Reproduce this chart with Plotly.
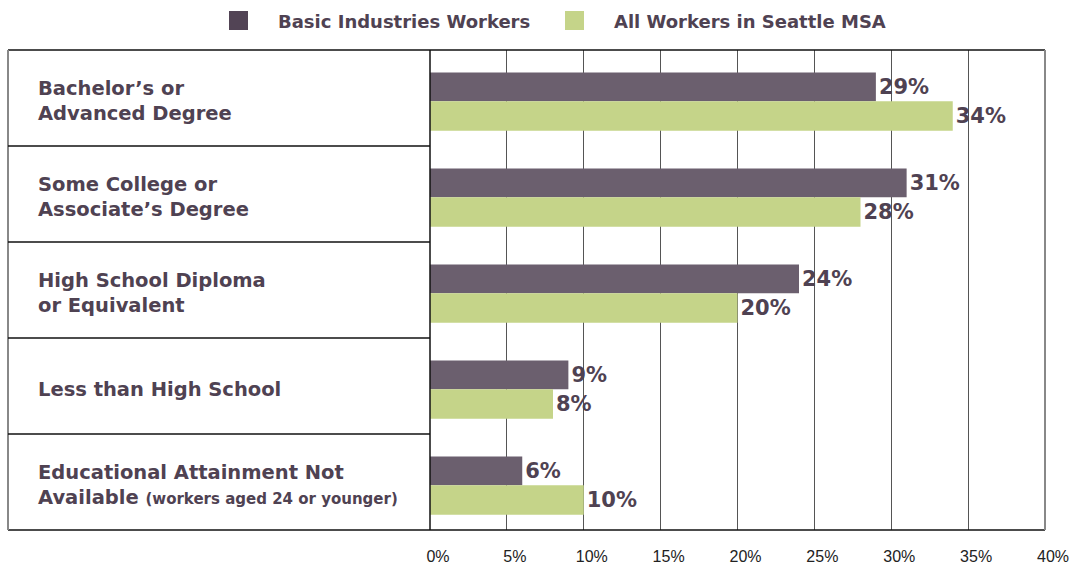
import plotly.graph_objects as go

# data
categories = ["Bachelor's", "Some College", "High School", "Less than HS", "Not Available"]
row_labels = [
    "Bachelor’s or<br>Advanced Degree",
    "Some College or<br>Associate’s Degree",
    "High School Diploma<br>or Equivalent",
    "Less than High School",
    "Educational Attainment Not<br>Available <span style='font-size:15px'>(workers aged 24 or younger)</span>",
]
basic_workers = [29, 31, 24, 9, 6]
all_workers = [34, 28, 20, 8, 10]
series_names = ["Basic Industries Workers", "All Workers in Seattle MSA"]

W, H = 1073, 565
L, R, T, B = 430, 28, 50, 35
PW, PH = W - L - R, H - T - B

PURPLE = "#6b5f6e"
GREEN = "#c5d489"
TEXT = "#4f4252"
BOLD = "DejaVu Sans"


def px(x):
    return (x - L) / PW


def py(y):
    return (H - B - y) / PH


fig = go.Figure()
fig.add_trace(go.Bar(
    y=categories, x=basic_workers, orientation="h", name=series_names[0],
    marker=dict(color=PURPLE, line=dict(width=0)),
    offset=-0.265, width=0.30,
    text=[f"{v}%" for v in basic_workers], textposition="outside",
    textfont=dict(family=BOLD, size=21, color=TEXT, weight="bold"),
    cliponaxis=False, constraintext="none",
))
fig.add_trace(go.Bar(
    y=categories, x=all_workers, orientation="h", name=series_names[1],
    marker=dict(color=GREEN, line=dict(width=0)),
    offset=0.035, width=0.305,
    text=[f"{v}%" for v in all_workers], textposition="outside",
    textfont=dict(family=BOLD, size=21, color=TEXT, weight="bold"),
    cliponaxis=False, constraintext="none",
))

shapes = []
# table frame on the left
shapes.append(dict(type="line", xref="paper", yref="paper", x0=px(8), x1=1, y0=1, y1=1,
                   line=dict(color="#111", width=1.5)))
shapes.append(dict(type="line", xref="paper", yref="paper", x0=px(8), x1=1, y0=0, y1=0,
                   line=dict(color="#111", width=1.5)))
shapes.append(dict(type="line", xref="paper", yref="paper", x0=px(8), x1=px(8), y0=0, y1=1,
                   line=dict(color="#888", width=2)))
shapes.append(dict(type="line", xref="paper", yref="paper", x0=1, x1=1, y0=0, y1=1,
                   line=dict(color="#888", width=2)))
shapes.append(dict(type="line", xref="paper", yref="paper", x0=0, x1=0, y0=0, y1=1,
                   line=dict(color="#111", width=1.5)))
for i in range(len(categories) - 1):
    shapes.append(dict(type="line", xref="paper", yref="y", x0=px(8), x1=0, y0=i + 0.5, y1=i + 0.5,
                       line=dict(color="#111", width=1.5)))

# legend
annotations = []
for name, color, sq_x, tx in [(series_names[0], "#524455", 229, 276), (series_names[1], GREEN, 565, 612)]:
    shapes.append(dict(type="rect", xref="paper", yref="paper", x0=px(sq_x), x1=px(sq_x + 19),
                       y0=py(30), y1=py(11), fillcolor=color, line=dict(width=0)))
    annotations.append(dict(xref="paper", yref="paper", x=px(tx), y=py(21), text=name,
                            showarrow=False, xanchor="left", yanchor="middle",
                            font=dict(family=BOLD, size=18, color=TEXT, weight="bold")))

for cat, lab in zip(categories, row_labels):
    annotations.append(dict(xref="paper", yref="y", x=px(36), y=cat, text=lab, showarrow=False,
                            xanchor="left", yanchor="middle", align="left", yshift=-3,
                            font=dict(family=BOLD, size=19.5, color=TEXT, weight="bold")))

fig.update_layout(
    width=W, height=H,
    margin=dict(l=L, r=R, t=T, b=B, autoexpand=False),
    plot_bgcolor="white", paper_bgcolor="white",
    barmode="overlay", showlegend=False,
    shapes=shapes, annotations=annotations,
    xaxis=dict(range=[0, 40], dtick=5, ticksuffix="%", showgrid=True, automargin=False,
               gridcolor="#555", gridwidth=1.2, zeroline=False, showline=False,
               tickfont=dict(family="Liberation Sans", size=16, color="#222"),
               ticklabelshift=8, ticklabelstandoff=15, fixedrange=True),
    yaxis=dict(categoryorder="array", categoryarray=categories, range=[4.5, -0.5], automargin=False,
               showticklabels=False, showgrid=False, zeroline=False, fixedrange=True),
)

# drop the browser's default body margin so the figure sits at the page corner
fig.write_html("out.html", config={"displayModeBar": False},
               post_script="document.body.style.margin='0';")
